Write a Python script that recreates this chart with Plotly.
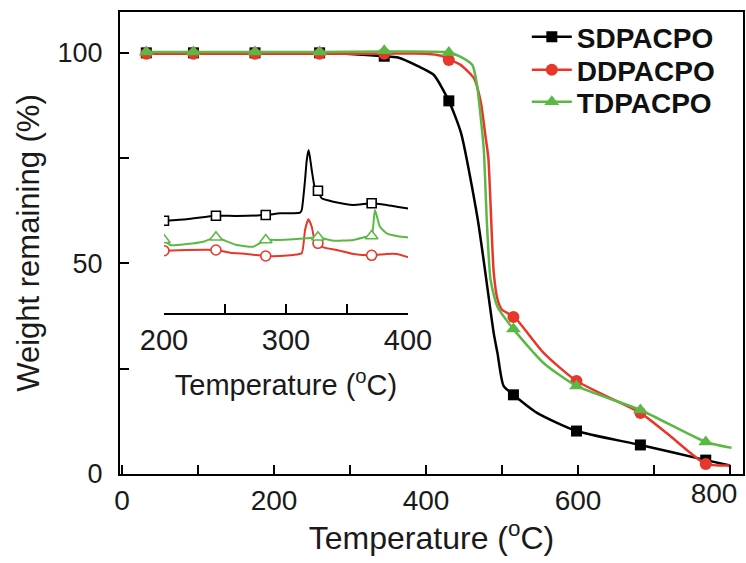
import plotly.graph_objects as go

# ---------------- main TGA curves: temperature (°C) vs weight remaining (%) ----------------
sd_T = [30, 95, 175, 260, 345, 363, 390, 410, 430, 446, 468, 489, 494, 502, 515, 546, 598, 682, 768, 800]
sd_W = [100, 100, 100, 100, 99.2, 98.9, 96.8, 94.8, 88.6, 81.0, 60.5, 33.5, 28.7, 20.9, 18.8, 14.5, 10.2, 6.9, 3.3, 2.0]

dd_T = [30, 95, 175, 260, 345, 400, 420, 431, 445, 463, 472, 478, 482, 489, 494, 500, 516, 555, 598, 682, 722, 768, 800]
dd_W = [99.8, 99.8, 99.8, 99.8, 99.8, 99.8, 99.3, 98.4, 97.2, 94.0, 88.4, 80.5, 75.0, 48.0, 41.5, 39.0, 37.3, 28.7, 22.1, 14.5, 8.9, 2.4, 2.0]

td_T = [30, 95, 175, 260, 345, 430, 445, 461, 467, 472, 476, 480, 485, 494, 515, 555, 598, 682, 768, 802]
td_W = [100.2, 100.2, 100.2, 100.2, 100.3, 100.1, 99.1, 97.1, 92.4, 84.6, 77.0, 60.0, 46.0, 39.7, 34.4, 26.3, 20.9, 15.2, 7.6, 6.2]

# symbol positions along each curve
mark_T = [32, 94, 175, 260, 345, 430, 515, 598, 682, 768]
sd_mark_W = [100, 100, 100, 100, 99.2, 88.6, 18.8, 10.2, 6.9, 3.3]
dd_mark_W = [99.8, 99.8, 99.8, 99.8, 99.8, 98.3, 37.3, 22.1, 14.5, 2.4]
td_mark_W = [100.2, 100.2, 100.2, 100.2, 100.5, 100.1, 34.4, 20.9, 15.2, 7.6]

x_ticks = [0, 200, 400, 600, 800]
y_ticks = [0, 50, 100]
inset_ticks = [200, 300, 400]

# ---------------- inset: derivative signal (a.u.) between 200 and 400 °C ----------------
sd_iT = [200.8, 218.6, 242.6, 259.6, 283.4, 295.1, 306, 311.5, 312.9, 315.6, 317, 318.6, 321.1, 323.8,
         326.2, 329.3, 338.8, 355.2, 370.2, 382.5, 390.7, 398.9, 400]
sd_iV = [9.23, 9.37, 9.73, 9.7, 9.8, 9.97, 9.97, 10.03, 10.3, 13.3, 15.3, 16.3, 14.3, 12.47,
         12.23, 11.47, 11.13, 10.8, 10.97, 10.8, 10.63, 10.47, 10.45]

dd_iT = [199, 218.6, 242.6, 254.1, 267.8, 283.4, 295.1, 306, 312.9, 315.6, 318.3, 321.1, 323.8, 326.2,
         330.6, 341.6, 355.2, 370.2, 382.5, 390.7, 398.9, 400]
dd_iV = [6.23, 6.3, 6.3, 6.03, 5.9, 5.7, 5.7, 5.8, 5.97, 8.3, 9.37, 8.63, 7.13, 6.97,
         6.57, 6.3, 5.9, 5.77, 5.9, 5.9, 5.63, 5.6]

td_iT = [199, 204.9, 218.6, 232.2, 242.6, 248.6, 259.6, 273.2, 283.4, 295.1, 306, 317, 326.2, 338.8,
         355.2, 366.1, 370.2, 372.9, 377, 382.5, 390.7, 398.9, 400]
td_iV = [7.47, 6.8, 6.9, 7.13, 7.57, 7.3, 6.8, 6.63, 7.3, 7.3, 7.37, 7.47, 7.57, 7.23,
         7.3, 7.63, 7.7, 10.3, 8.63, 7.97, 7.7, 7.57, 7.55]

imark_T = [200, 242.6, 283.4, 326.2, 370.2]
sd_imark_V = [9.23, 9.73, 9.8, 12.23, 10.97]
dd_imark_V = [6.23, 6.3, 5.7, 6.97, 5.77]
td_imark_V = [7.3, 7.57, 7.3, 7.57, 7.7]

names = ["SDPACPO", "DDPACPO", "TDPACPO"]
colors = ["#000000", "#e8372a", "#5cb845"]
symbols = ["square", "circle", "triangle-up"]
msizes = [11, 12, 13]
legend_ids = ["legend", "legend2", "legend3"]
legend_rows = [0.9459, 0.8745, 0.8052]   # vertical centre of each legend row (paper units)

FONT = "Arial, Liberation Sans, sans-serif"
X_RANGE = [-2.6, 817]

fig = go.Figure()

main = [(sd_T, sd_W, sd_mark_W), (dd_T, dd_W, dd_mark_W), (td_T, td_W, td_mark_W)]
for (T, W, MW), name, c, s, ms, lg in zip(main, names, colors, symbols, msizes, legend_ids):
    fig.add_trace(go.Scatter(x=T, y=W, mode="lines", showlegend=False,
                             line=dict(color=c, width=2.5, shape="spline", smoothing=0.6),
                             hoverinfo="skip"))
    fig.add_trace(go.Scatter(x=mark_T, y=MW, mode="markers", showlegend=False,
                             marker=dict(symbol=s, size=ms, color=c, line=dict(width=0))))
    # legend entry: line with filled symbol
    fig.add_trace(go.Scatter(x=[None], y=[None], mode="lines+markers", name=name, legend=lg,
                             line=dict(color=c, width=2.5),
                             marker=dict(symbol=s, size=ms, color=c)))

inset = [(sd_iT, sd_iV, sd_imark_V), (dd_iT, dd_iV, dd_imark_V), (td_iT, td_iV, td_imark_V)]
isizes = [9, 10, 11]
for (T, V, MV), c, s, ms in zip(inset, colors, symbols, isizes):
    fig.add_trace(go.Scatter(x=T, y=V, mode="lines", showlegend=False, xaxis="x2", yaxis="y2",
                             line=dict(color=c, width=2, shape="spline", smoothing=0.5),
                             hoverinfo="skip"))
    fig.add_trace(go.Scatter(x=imark_T, y=MV, mode="markers", showlegend=False, xaxis="x2", yaxis="y2",
                             marker=dict(symbol=s, size=ms, color="white", line=dict(color=c, width=1.6))))

axis_common = dict(showline=True, linecolor="black", linewidth=2, ticks="inside", ticklen=9,
                   tickwidth=2, tickcolor="black", showgrid=False, zeroline=False, automargin=False)
minor_common = dict(ticks="inside", ticklen=9, tickwidth=2, tickcolor="black")
xfont = dict(family=FONT, size=28, color="#1a1a1a")

# the last x label is drawn on an overlay axis, nudged left so it stays inside the figure
x_ticktext = [str(v) for v in x_ticks[:-1]] + [""]

legend_style = dict(x=0.653, xanchor="left", yanchor="middle", bgcolor="rgba(0,0,0,0)",
                    font=dict(family=FONT, size=28, weight="bold", color="#111111"), itemwidth=40)

fig.update_layout(
    width=746, height=563,
    margin=dict(l=120, r=3, t=12, b=89),
    paper_bgcolor="white", plot_bgcolor="white",
    font=dict(family=FONT, color="#1a1a1a"),
    xaxis=dict(**axis_common, range=X_RANGE, tickvals=x_ticks, ticktext=x_ticktext, mirror=True,
               tickfont=xfont, ticklabelstandoff=0,
               minor=dict(dtick=100, **minor_common),
               title=dict(text="Temperature (<sup>o</sup>C)", font=dict(family=FONT, size=32), standoff=0)),
    xaxis3=dict(overlaying="x", anchor="y", side="bottom", range=X_RANGE, tickvals=x_ticks[-1:],
                ticks="", showline=False, showgrid=False, zeroline=False, automargin=False,
                tickfont=xfont, ticklabelstandoff=0, ticklabelshift=-16),
    yaxis=dict(**axis_common, range=[0, 109.7], tickvals=y_ticks, mirror=True,
               tickfont=dict(family=FONT, size=27, color="#1a1a1a"),
               ticklabelstandoff=10,
               minor=dict(dtick=25, **minor_common),
               title=dict(text="Weight remaining (%)", font=dict(family=FONT, size=31), standoff=9)),
    xaxis2=dict(**axis_common, domain=[0.0706, 0.4623], anchor="y2", range=[200, 400], tickvals=inset_ticks,
                tickfont=dict(family=FONT, size=29, color="#1a1a1a"),
                ticklabelstandoff=0, ticklabeloverflow="allow",
                minor=dict(dtick=50, **minor_common),
                title=dict(text="Temperature (<sup>o</sup>C)", font=dict(family=FONT, size=29), standoff=20)),
    yaxis2=dict(domain=[0.3485, 0.7229], anchor="x2", range=[0, 17.3], visible=False),
    legend=dict(**legend_style, y=legend_rows[0]),
    legend2=dict(**legend_style, y=legend_rows[1]),
    legend3=dict(**legend_style, y=legend_rows[2]),
)

# an empty trace keeps the overlay axis active
fig.add_trace(go.Scatter(x=[None], y=[None], xaxis="x3", yaxis="y", showlegend=False, hoverinfo="skip"))

fig.write_html("out.html")
